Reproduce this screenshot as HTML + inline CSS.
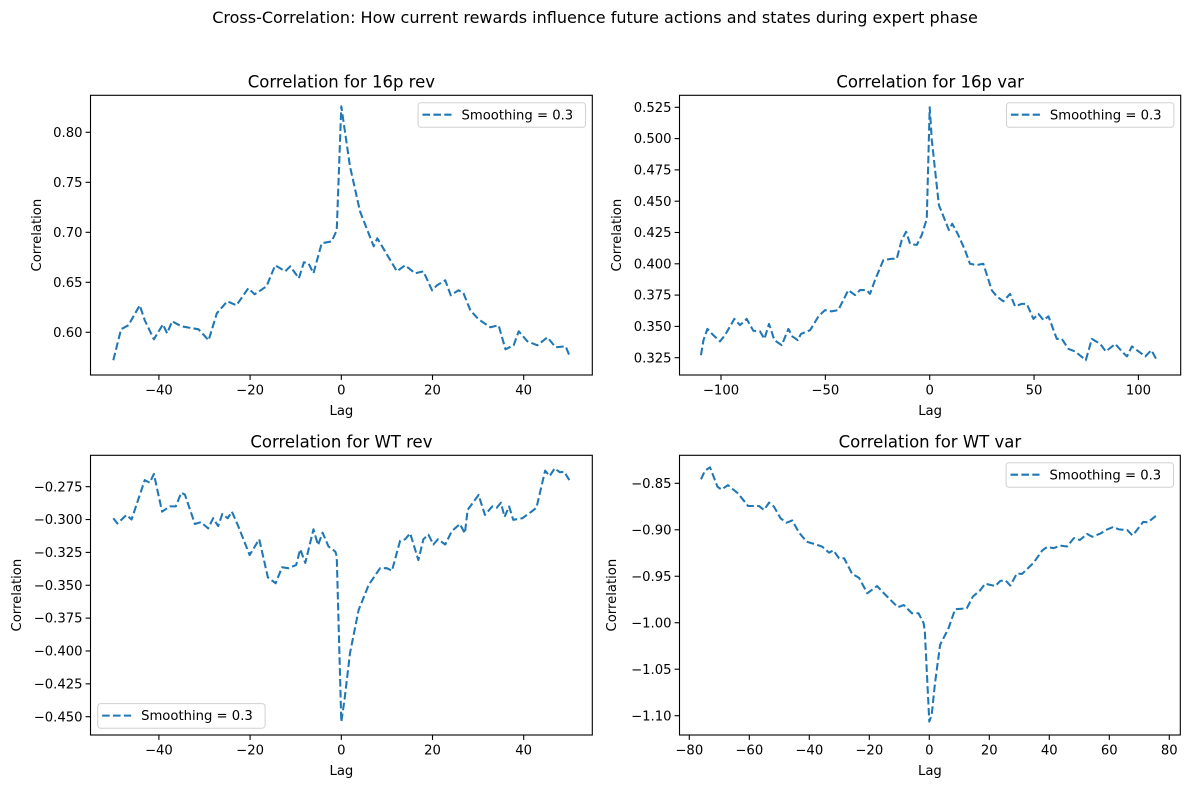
<!DOCTYPE html>
<html><head><meta charset="utf-8"><style>
html,body{margin:0;padding:0;background:#fff;}
svg{display:block;font-family:"DejaVu Sans","Liberation Sans",sans-serif;}
</style></head><body>
<svg id="fig" width="1189" height="788" viewBox="0 0 1189 788" xmlns="http://www.w3.org/2000/svg">
<rect width="1189" height="788" fill="#fff"/>
<text x="595" y="23" font-size="16" text-anchor="middle">Cross-Correlation: How current rewards influence future actions and states during expert phase</text>
</svg>
<script>
// ---- Panel 1: 16p rev ----
const lags1 = [-50,-48.3,-46.7,-44.2,-43.1,-41.1,-39.1,-38.2,-37.1,-35.1,-31.3,-29.1,-27.3,-25,-23,-20.4,-19,-16.4,-14.5,-12.3,-11.2,-9.3,-8.2,-7.2,-6.1,-4.3,-2.1,-1,0,1.9,4.1,7.1,7.9,12.2,14,16.2,18,19.9,21,22.8,24,25.7,26.8,28.3,30.1,32.7,34.5,36,37.8,38.9,40.8,43,45.2,47,49.2,50];
const vals1 = [0.572,0.603,0.607,0.627,0.612,0.593,0.608,0.599,0.611,0.606,0.603,0.592,0.619,0.631,0.627,0.644,0.638,0.646,0.667,0.661,0.666,0.654,0.670,0.669,0.659,0.689,0.691,0.702,0.826,0.766,0.721,0.686,0.694,0.661,0.667,0.659,0.661,0.642,0.647,0.652,0.637,0.642,0.639,0.622,0.613,0.605,0.607,0.583,0.587,0.601,0.591,0.587,0.595,0.585,0.586,0.577];
const yTicks1 = [0.60,0.65,0.70,0.75,0.80];
const xTicks1 = [-40,-20,0,20,40];
// ---- Panel 2: 16p var ----
const lags2 = [-109.6,-108.4,-106.5,-103.7,-100.5,-98.1,-93.6,-90.9,-87.7,-84.5,-81.3,-79.2,-77,-74.4,-70.9,-67.7,-65.8,-63.2,-61.7,-57.3,-53.3,-50.2,-47,-43.8,-39,-35.8,-33.4,-30.2,-28.6,-26.2,-22.2,-18.2,-15.8,-13.4,-11.3,-9.4,-6.2,-3.8,-1.4,0,1,2.4,4.4,9.2,10.8,13.4,16.9,19.3,22.5,25.7,29.7,32.1,35.3,38.5,40.9,44.1,46.5,49.7,52.1,54.5,56.9,60.9,63.3,66.5,69.7,74.8,77.7,81.7,84.4,88.9,92.1,94.5,96.9,100.1,103.3,106.2,109];
const vals2 = [0.327,0.339,0.348,0.343,0.338,0.343,0.356,0.351,0.356,0.3465,0.346,0.340,0.352,0.339,0.335,0.348,0.342,0.339,0.344,0.347,0.358,0.363,0.362,0.363,0.379,0.375,0.379,0.379,0.376,0.387,0.403,0.404,0.404,0.419,0.4256,0.416,0.415,0.423,0.436,0.525,0.499,0.4775,0.447,0.427,0.432,0.424,0.411,0.400,0.399,0.400,0.379,0.374,0.370,0.376,0.366,0.368,0.368,0.356,0.360,0.355,0.358,0.340,0.340,0.332,0.330,0.323,0.340,0.336,0.330,0.336,0.330,0.326,0.334,0.330,0.326,0.331,0.3225];
const yTicks2 = [0.325,0.350,0.375,0.400,0.425,0.450,0.475,0.500,0.525];
const xTicks2 = [-100,-50,0,50,100];
// ---- Panel 3: WT rev ----
const lags3 = [-50,-49.1,-47.1,-46,-43.1,-42,-41.1,-39.3,-37.6,-36.3,-35.1,-34.3,-32.1,-30.8,-29.2,-28.1,-27,-26.1,-24.9,-24,-22.6,-20.1,-18,-16.1,-14.4,-13,-11.6,-9.9,-9,-7.9,-6.1,-5.1,-4.1,-2.8,-1.3,-1,0,0.7,1.9,3.8,6,8.5,10,11.1,12.9,14,15.1,16.9,18,19.1,20.2,21.2,22.8,24.2,26,27.1,27.7,30.1,31.5,33.1,34.1,35,35.8,36.8,37.7,39.7,41.7,42.8,44.7,45.7,46.8,47.9,48.9,50];
const vals3 = [-0.299,-0.303,-0.2965,-0.300,-0.270,-0.272,-0.2653,-0.294,-0.290,-0.290,-0.2796,-0.281,-0.3034,-0.302,-0.3067,-0.299,-0.305,-0.2958,-0.299,-0.294,-0.305,-0.327,-0.315,-0.344,-0.3485,-0.3363,-0.337,-0.3346,-0.3226,-0.333,-0.3074,-0.3194,-0.310,-0.3205,-0.3245,-0.328,-0.4539,-0.4373,-0.4018,-0.3688,-0.3498,-0.337,-0.337,-0.339,-0.3161,-0.315,-0.3105,-0.3308,-0.315,-0.3115,-0.319,-0.315,-0.319,-0.309,-0.3034,-0.3105,-0.2927,-0.2813,-0.2965,-0.290,-0.291,-0.2872,-0.298,-0.290,-0.3002,-0.299,-0.294,-0.291,-0.2628,-0.2669,-0.261,-0.264,-0.2637,-0.270];
const yTicks3 = [-0.450,-0.425,-0.400,-0.375,-0.350,-0.325,-0.300,-0.275];
const xTicks3 = [-40,-20,0,20,40];
// ---- Panel 4: WT var ----
const lags4 = [-76.1,-74.8,-73.1,-70.6,-69.3,-67.1,-63.8,-60.4,-56.8,-55.1,-53.4,-51.8,-49.6,-47.6,-45.7,-43.4,-40.9,-37.9,-35.7,-33.4,-32,-30.1,-28.4,-25.7,-23.4,-20.7,-17.4,-15.7,-13.5,-10.5,-8.5,-5.8,-3.6,-1.9,-1.5,0,0.8,1.9,3.6,6.4,8.6,12.5,14.5,17,18.6,22,23.7,25.4,27,29.2,30.9,34.8,37.6,39.2,41.5,43.7,45.9,48.2,50.2,52.6,54.3,57.1,59.3,61.3,63.2,66,67.7,68.8,71.3,72.9,75.5];
const vals4 = [-0.8457,-0.8365,-0.8328,-0.8537,-0.8567,-0.852,-0.8608,-0.8744,-0.8744,-0.8787,-0.8708,-0.875,-0.8876,-0.8924,-0.890,-0.9031,-0.9128,-0.9156,-0.9182,-0.9247,-0.922,-0.9306,-0.9306,-0.9475,-0.9517,-0.9683,-0.9605,-0.9665,-0.9736,-0.9833,-0.981,-0.9898,-0.9898,-1.0005,-1.009,-1.1063,-1.099,-1.065,-1.0238,-1.006,-0.9855,-0.9845,-0.9719,-0.965,-0.958,-0.9605,-0.955,-0.9545,-0.96,-0.947,-0.9475,-0.9354,-0.9224,-0.9187,-0.9197,-0.917,-0.918,-0.909,-0.911,-0.9045,-0.9075,-0.904,-0.8996,-0.897,-0.8996,-0.9004,-0.906,-0.902,-0.8915,-0.892,-0.8851];
const yTicks4 = [-1.10,-1.05,-1.00,-0.95,-0.90,-0.85];
const xTicks4 = [-80,-60,-40,-20,0,20,40,60,80];

const NS = "http://www.w3.org/2000/svg";
const fig = document.getElementById('fig');
function mk(tag, attrs, parent, txt){
  const e = document.createElementNS(NS, tag);
  for (const k in attrs) e.setAttribute(k, attrs[k]);
  if (txt !== undefined) e.textContent = txt;
  parent.appendChild(e);
  return e;
}
function fmt(v, d){ const s = Math.abs(v).toFixed(d); return (v < 0 ? '\u2212' : '') + s; }

function panel(cfg){
  const g = mk('g', {}, fig);
  
  
  const xs = v => cfg.x0 + v * cfg.xk;
  const ys = v => cfg.yRef - (v - cfg.vRef) * cfg.yk;
  const L = cfg.box[0], R = cfg.box[1], T = cfg.box[2], B = cfg.box[3];
  // title
  const t = mk('text', {x:(L+R)/2, y:T-8, 'font-size':16.5, 'text-anchor':'middle'}, g, cfg.title);
  
  
  // ticks
  cfg.yTicks.forEach(v => {
    const y = ys(v);
    mk('line', {x1:L-4.9, x2:L, y1:y, y2:y, stroke:'#000', 'stroke-width':1.1}, g);
    const lb = mk('text', {x:L-8, y:y+4.6, 'font-size':13.2, 'text-anchor':'end'}, g, fmt(v, cfg.yDec));
    
    
  });
  cfg.xTicks.forEach(v => {
    const x = xs(v);
    mk('line', {x1:x, x2:x, y1:B, y2:B+4.9, stroke:'#000', 'stroke-width':1.1}, g);
    const lb = mk('text', {x:x, y:B+19.5, 'font-size':13.2, 'text-anchor':'middle'}, g, fmt(v, 0));
    
    
  });
  const xl = mk('text', {x:(L+R)/2, y:B+40, 'font-size':13.2, 'text-anchor':'middle'}, g, 'Lag');
  
  
  const yl = mk('text', {x:0, y:0, 'font-size':13.2, 'text-anchor':'middle', transform:`translate(${cfg.ylx},${(T+B)/2}) rotate(-90)`}, g, 'Correlation');
  
  
  // series
  const pts = cfg.lags.map((l, i) => xs(l).toFixed(2) + ',' + ys(cfg.vals[i]).toFixed(2)).join(' ');
  const pl = mk('polyline', {points:pts, fill:'none', stroke:'#1f77b4', 'stroke-width':2.06, 'stroke-dasharray':'7.6,3.3', 'stroke-linejoin':'round'}, g);
  
  
  // frame
  mk('rect', {x:L, y:T, width:R-L, height:B-T, fill:'none', stroke:'#000', 'stroke-width':1.1}, g);
  // legend
  const lg = mk('g', {}, g);
  
  
  const lw = 167.4, lh = 24.6;
  const lx = cfg.legendLeft ? L + 7.2 : R - 6.8 - lw;
  const ly = cfg.legendLeft ? B - 6.8 - lh : T + 7.4;
  mk('rect', {x:lx, y:ly, width:lw, height:lh, rx:3, fill:'#fff', 'fill-opacity':0.8, stroke:'#d0d0d0', 'stroke-width':1}, lg);
  mk('line', {x1:lx+4.4, x2:lx+33.4, y1:ly+12, y2:ly+12, stroke:'#1f77b4', 'stroke-width':2.06, 'stroke-dasharray':'7.6,3.3'}, lg);
  const le = mk('text', {x:lx+43.4, y:ly+16.6, 'font-size':13.2}, lg, 'Smoothing = 0.3');
  
  
}

panel({name:'panel-16p-rev', title:'Correlation for 16p rev', box:[90.5,592.3,95.3,375],
  x0:341.3, xk:4.56, yRef:332.3, vRef:0.60, yk:1000, yDec:2,
  lags:lags1, vals:vals1, yTicks:yTicks1, xTicks:xTicks1, ylx:41});
panel({name:'panel-16p-var', title:'Correlation for 16p var', box:[679.5,1180.7,95.3,375],
  x0:929.7, xk:2.087, yRef:357.7, vRef:0.325, yk:31.3/0.025, yDec:3,
  lags:lags2, vals:vals2, yTicks:yTicks2, xTicks:xTicks2, ylx:621});
panel({name:'panel-wt-rev', title:'Correlation for WT rev', box:[90.5,592.3,455.3,735],
  x0:341.3, xk:4.56, yRef:716.7, vRef:-0.45, yk:32.86/0.025, yDec:3,
  lags:lags3, vals:vals3, yTicks:yTicks3, xTicks:xTicks3, ylx:21, legendLeft:true});
panel({name:'panel-wt-var', title:'Correlation for WT var', box:[679.5,1180.3,455.3,735],
  x0:929.3, xk:3.0, yRef:715.7, vRef:-1.10, yk:46.48/0.05, yDec:2,
  lags:lags4, vals:vals4, yTicks:yTicks4, xTicks:xTicks4, ylx:616});
</script>
</body></html>
